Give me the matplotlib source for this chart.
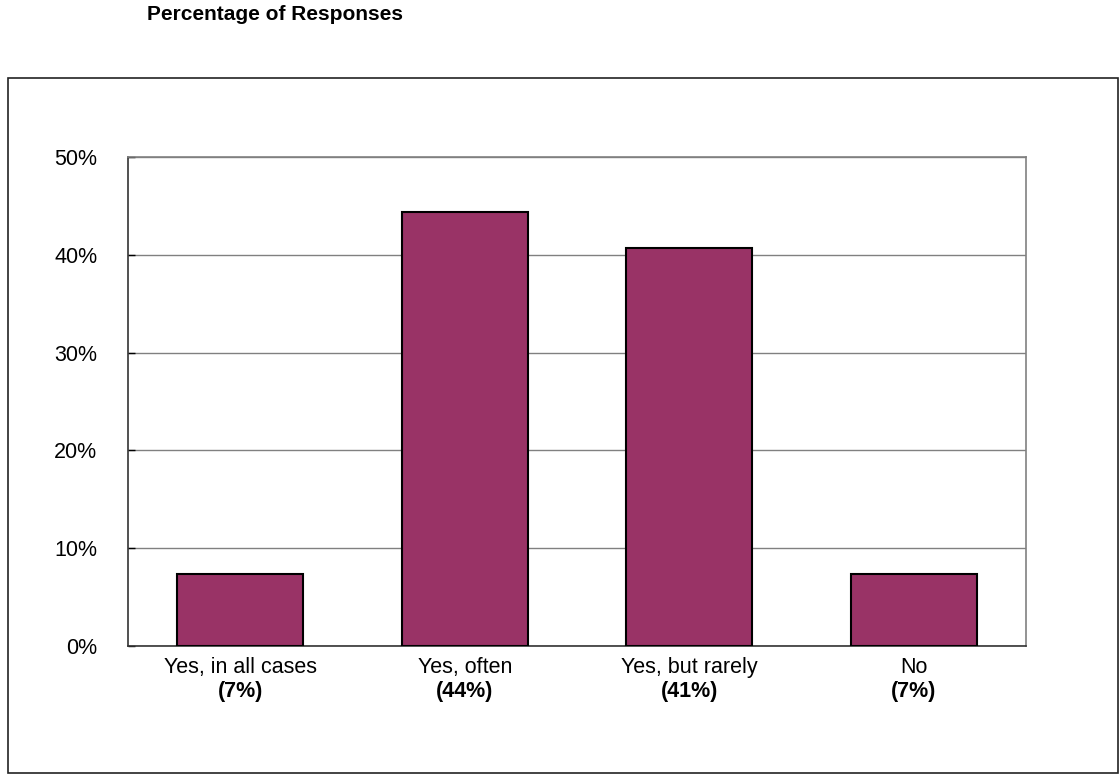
import matplotlib
matplotlib.use("Agg")
import matplotlib.pyplot as plt
from matplotlib.patches import Rectangle
from matplotlib.ticker import FuncFormatter

plt.rcParams['font.family'] = ['Liberation Sans', 'DejaVu Sans']

# survey answers and share of responses (%)
categories = ["Yes, in all cases", "Yes, often", "Yes, but rarely", "No"]
shares = [7.4, 44.4, 40.7, 7.4]
y_ticks = [0, 10, 20, 30, 40, 50]

BAR_COLOR = "#993366"

fig = plt.figure(figsize=(11.2, 7.76), dpi=100)

# frame around the chart area
fig.patches.append(Rectangle((0.0071, 0.004), 0.991, 0.8955, transform=fig.transFigure,
                             fill=False, edgecolor="#222222", linewidth=1.2))

fig.text(0.131, 0.993, "Percentage of Responses", fontsize=15, fontweight="bold",
         ha="left", va="top")

ax = fig.add_axes([0.1143, 0.1675, 0.8018, 0.6302])
x = range(len(categories))
ax.bar(x, shares, width=0.56, color=BAR_COLOR, edgecolor="black", linewidth=1.5, zorder=3)

ax.set_xlim(-0.5, len(categories) - 0.5)
ax.set_ylim(0, 50)
ax.set_yticks(y_ticks)
ax.yaxis.set_major_formatter(FuncFormatter(lambda v, p: f"{v:.0f}%"))
ax.tick_params(axis="y", direction="in", length=5, width=1, labelsize=15.5, pad=22)
ax.yaxis.grid(True, color="#808080", linewidth=1, zorder=0)

ax.set_xticks(list(x))
ax.set_xticklabels([])
ax.tick_params(axis="x", length=0)
for i, (cat, val) in enumerate(zip(categories, shares)):
    ax.annotate(cat, xy=(i, 0), xycoords=("data", "axes fraction"), xytext=(0, -8),
                textcoords="offset points", ha="center", va="top", fontsize=15.5)
    ax.annotate(f"({val:.0f}%)", xy=(i, 0), xycoords=("data", "axes fraction"),
                xytext=(0, -25.5), textcoords="offset points", ha="center", va="top",
                fontsize=15.5, fontweight="bold")

for side in ["left", "bottom"]:
    ax.spines[side].set_color("#333333")
    ax.spines[side].set_linewidth(1.2)
for side in ["top", "right"]:
    ax.spines[side].set_color("#808080")
    ax.spines[side].set_linewidth(1.2)

fig.savefig("out.png", dpi=100)
